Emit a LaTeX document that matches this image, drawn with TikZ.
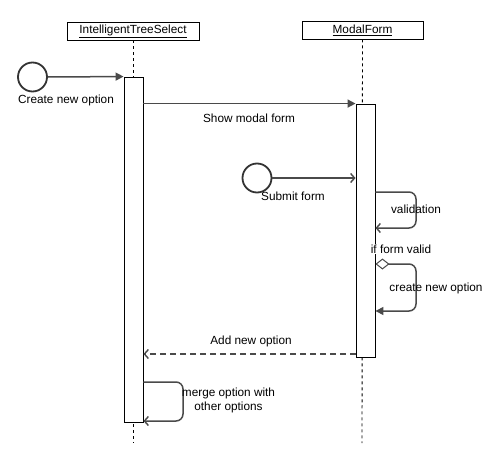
\documentclass[tikz,border=0pt]{standalone}
\usepackage{fontspec}
\setmainfont{Liberation Sans}
\usetikzlibrary{arrows.meta}
\definecolor{linegray}{HTML}{4A4A4A}
\begin{document}
\begin{tikzpicture}[x=1pt,y=-1pt,
  every node/.style={font=\fontsize{11.8}{14}\selectfont, inner sep=0pt},
  header/.style={draw=black, line width=0.9pt, fill=white, minimum height=18pt},
  actbox/.style={draw=black, line width=0.9pt, fill=white, minimum width=19pt},
  startcircle/.style={draw=black!80, line width=1.8pt, circle, minimum size=29pt},
  lifeline/.style={draw=black, line width=0.9pt, dash pattern=on 3pt off 3pt},
  msg/.style={draw=linegray, line width=1.5pt},
  filledtip/.style={-{Triangle[length=8pt,width=8pt]}},
  opentip/.style={-{Straight Barb[length=4pt,width=9pt,line width=1.4pt]}},
  loopline/.style={msg, rounded corners=7pt},
  lbl/.style={text=black}
]
\useasboundingbox (0,0) rectangle (490,458);

% headers
\node[header, minimum width=132pt] (h1) at (133,31) {\underline{IntelligentTreeSelect}};
\node[header, minimum width=121pt] (h2) at (362.5,30) {\underline{ModalForm}};

% lifeline end points
\coordinate (e1) at (133,443);
\coordinate (e2) at (362,443);
\draw[lifeline] (h1.south) -- (e1);
\draw[lifeline] (h2.south) -- (e2);

% activations
\node[actbox, minimum height=345pt] (a1) at (133.5,249.5) {};
\node[actbox, minimum height=253pt] (a2) at (365.5,230.5) {};

% start circles
\node[startcircle] (c1) at (32.5,77) {};
\node[startcircle] (c2) at (257,178) {};
\node[lbl] (t1) at (66,100) {Create new option};
\node[lbl] (t2) at (293,196) {Submit form};

% create new option -> a1
\draw[msg, filledtip] (c1.east) -- (a1.north west);

% show modal form
\coordinate (s1) at (a1.east |- a2.north);
\draw[msg, filledtip] (s1) -- (a2.north west);
\node[lbl] (t3) at (249,118) {Show modal form};

% submit form
\coordinate (s2) at (a2.west |- c2.east);
\draw[msg, opentip] (c2.east) -- (s2);

% validation loop
\coordinate (v1) at (a2.east |- 0,192);
\coordinate (v2) at (a2.east |- 0,228);
\draw[loopline, opentip] (v1) -- (416,192) -- (416,228) -- (v2);
\node[lbl] (t4) at (416,209) {validation};

\node[lbl, fill=white, inner sep=1pt] (t5) at (401,249) {if form valid};

% create new option loop
\coordinate (w1) at (a2.east |- 0,264);
\coordinate (w2) at (a2.east |- 0,311);
\draw[loopline, {Diamond[open, fill=white, length=14pt, width=11pt, line width=1pt]}-{Triangle[length=8pt,width=8pt]}] (w1) -- (416,264) -- (416,311) -- (w2);
\node[lbl] (t6) at (436,288) {create new option};

% add new option (return)
\coordinate (r1) at (a2.west |- 0,354);
\coordinate (r2) at (a1.east |- 0,354);
\draw[msg, opentip, dash pattern=on 6pt off 4pt] (r1) -- (r2);
\node[lbl] (t7) at (251,341) {Add new option};

% merge loop
\coordinate (m1) at (a1.east |- 0,382);
\coordinate (m2) at (a1.east |- 0,421);
\draw[loopline, opentip] (m1) -- (183,382) -- (183,421) -- (m2);
\node[lbl, align=center] (t8) at (228.5,400) {merge option with\\other options};
\end{tikzpicture}
\end{document}
